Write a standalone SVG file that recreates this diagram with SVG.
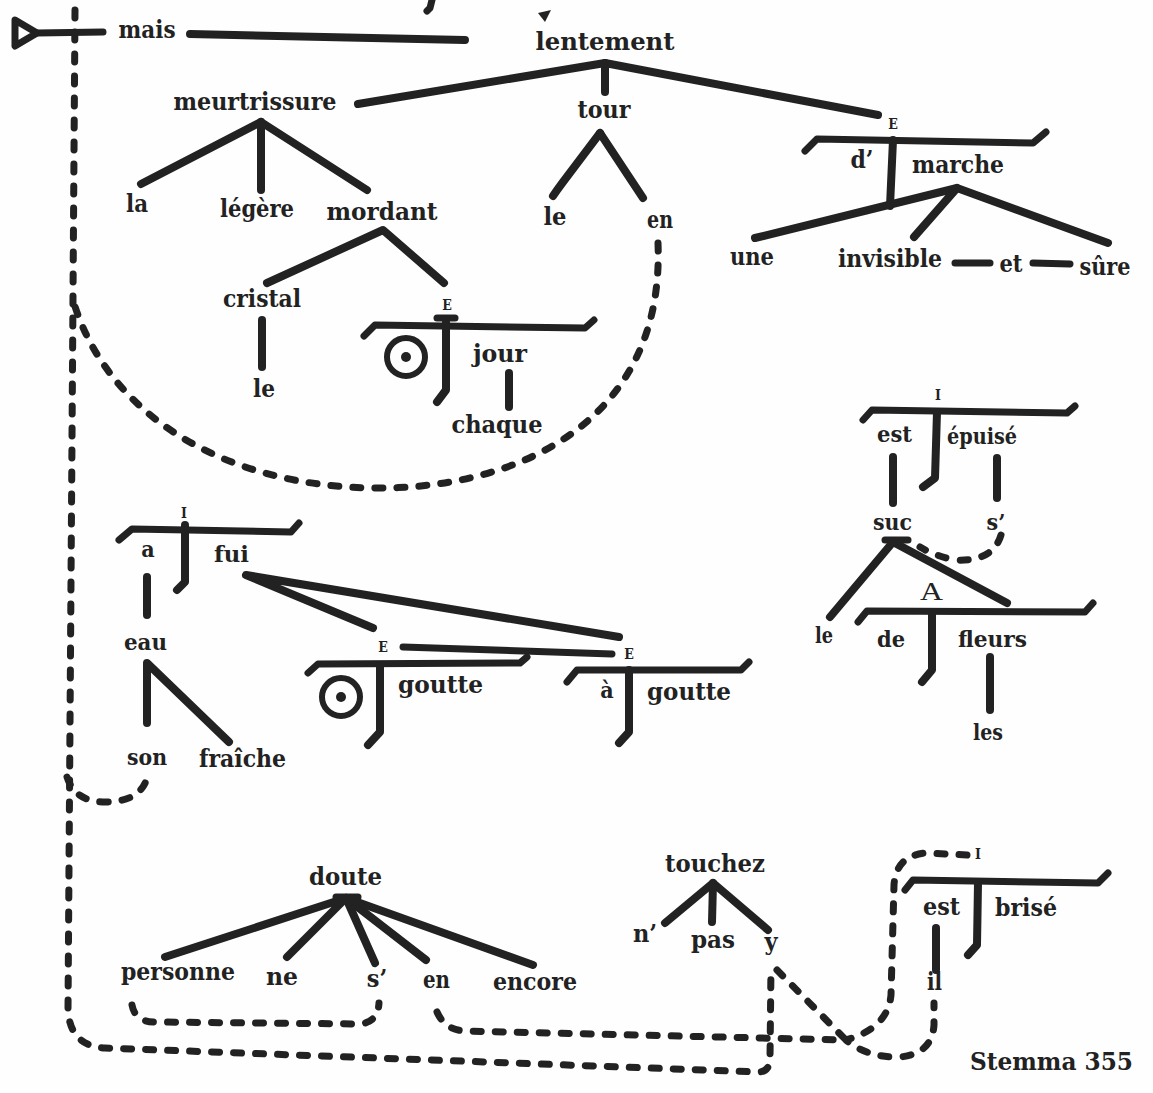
<svg xmlns="http://www.w3.org/2000/svg" width="1153" height="1093" viewBox="0 0 1153 1093">
<style>
.l{stroke:#222;stroke-width:8;fill:none;stroke-linecap:round;stroke-linejoin:round}
.t{stroke:#222;stroke-width:7;fill:none;stroke-linecap:round;stroke-linejoin:round}
.d{stroke:#222;stroke-width:7;fill:none;stroke-linecap:round;stroke-linejoin:round;stroke-dasharray:8 14}
.c{stroke:#222;stroke-width:6;fill:none}
.w{font-family:"DejaVu Serif Condensed","DejaVu Serif","Liberation Serif",serif;font-weight:bold;font-size:25px;fill:#222;text-anchor:middle}
.r{font-size:23px}
.s{font-size:14px}
.a{font-family:"Liberation Serif",serif;font-weight:normal;font-size:25px}
</style>
<rect width="1153" height="1093" fill="#fefefe"/>
<g id="marks">
<path class="t" d="M432,0 L430,8 L427,11" stroke-width="5"/>
<path d="M538,13 L551,10 L545,22 Z" fill="#222"/>
</g>
<g id="connectors">
<path class="l" d="M190,34 L465,40" stroke-width="9"/>
<path class="l" d="M358,104 L605,63 L878,115"/>
<path class="l" d="M605,63 L605,92"/>
<path class="l" d="M261,122 L141,184"/>
<path class="l" d="M261,122 L261,190"/>
<path class="l" d="M261,122 L367,190"/>
<path class="l" d="M600,133 L563,182 Q557,190 553,196"/>
<path class="l" d="M600,133 L643,198"/>
<path class="l" d="M755,238 L957,188 L1108,243"/>
<path class="l" d="M957,188 L914,237"/>
<path class="t" d="M955,263 L990,263"/>
<path class="t" d="M1033,263 L1070,264"/>
<path class="l" d="M267,283 L383,230 L444,283"/>
<path class="l" d="M262,320 L262,367"/>
<path class="l" d="M509,373 L509,407"/>
<path class="l" d="M147,577 L147,615"/>
<path class="l" d="M147,723 L147,663 L229,742"/>
<path class="l" d="M373,628 L246,575 L619,637"/>
<path class="t" d="M403,647 L612,654"/>
<path class="l" d="M893,457 L893,503"/>
<path class="l" d="M997,458 L997,498"/>
<path class="l" d="M830,617 L893,542 L1007,603"/>
<path class="t" d="M885,540 L908,540" stroke-width="4"/>
<path class="l" d="M990,657 L990,710"/>
<path class="l" d="M165,957 L346,898 L287,957"/>
<path class="l" d="M346,898 L375,963"/>
<path class="l" d="M346,898 L426,960"/>
<path class="l" d="M346,898 L533,965"/>
<path class="t" d="M336,897 L358,897" stroke-width="4"/>
<path class="l" d="M665,923 L713,883 L768,930"/>
<path class="l" d="M713,883 L712,922"/>
<path class="l" d="M936,928 L936,970"/>
<path class="d" d="M658,243 C665,420 520,488 379,488 C220,488 105,410 73,300"/>
<path class="d" d="M75,10 L68,1010 Q70,1046 105,1048 L758,1072 Q770,1072 770,1058 L771,966"/>
<path class="d" d="M67,777 Q75,802 105,802 Q140,802 147,778"/>
<path class="d" d="M132,1005 Q135,1022 155,1022 L360,1024 Q378,1022 379,1003"/>
<path class="d" d="M437,1012 Q445,1030 465,1031 L846,1040"/>
<path class="d" d="M777,970 L846,1040"/>
<path class="d" d="M1001,535 Q993,562 955,560 Q935,556 920,547"/>
<path class="d" d="M967,855 L925,853 Q896,856 894,885 L891,995 Q888,1028 846,1040 Q868,1058 900,1057 Q932,1054 934,1025 L934,1003"/>
</g>
<g id="n-mais">
<path class="t" d="M15,20 L37,33 L15,46 Z" stroke-width="6"/>
<path class="t" d="M37,33 L103,32"/>
<text class="w" x="147" y="38" textLength="57" lengthAdjust="spacingAndGlyphs">mais</text>
</g>
<g id="n-lentement"><text class="w" x="605" y="50" textLength="139" lengthAdjust="spacingAndGlyphs">lentement</text></g>
<g id="n-meurtrissure"><text class="w" x="255" y="110" textLength="163" lengthAdjust="spacingAndGlyphs">meurtrissure</text></g>
<g id="n-tour"><text class="w" x="604" y="118" textLength="53" lengthAdjust="spacingAndGlyphs">tour</text></g>
<g id="n-la"><text class="w" x="137" y="212" textLength="22" lengthAdjust="spacingAndGlyphs">la</text></g>
<g id="n-legere"><text class="w" x="257" y="217" textLength="74" lengthAdjust="spacingAndGlyphs">légère</text></g>
<g id="n-mordant"><text class="w" x="382" y="220" textLength="111" lengthAdjust="spacingAndGlyphs">mordant</text></g>
<g id="n-le1"><text class="w" x="555" y="225" textLength="23" lengthAdjust="spacingAndGlyphs">le</text></g>
<g id="n-en1"><text class="w" x="660" y="228" textLength="26" lengthAdjust="spacingAndGlyphs">en</text></g>
<g id="n-marche">
<text class="w s" x="893" y="129">E</text>
<path class="t" d="M805,151 L817,139 L1033,143 L1046,132"/>
<path class="l" d="M893,140 L890,206"/>
<text class="w" x="862" y="168" textLength="23" lengthAdjust="spacingAndGlyphs">d’</text>
<text class="w" x="958" y="173" textLength="92" lengthAdjust="spacingAndGlyphs">marche</text>
</g>
<g id="n-une"><text class="w" x="752" y="265" textLength="44" lengthAdjust="spacingAndGlyphs">une</text></g>
<g id="n-invisible"><text class="w" x="890" y="267" textLength="104" lengthAdjust="spacingAndGlyphs">invisible</text></g>
<g id="n-et"><text class="w" x="1011" y="272" textLength="23" lengthAdjust="spacingAndGlyphs">et</text></g>
<g id="n-sure"><text class="w" x="1105" y="275" textLength="51" lengthAdjust="spacingAndGlyphs">sûre</text></g>
<g id="n-cristal"><text class="w" x="262" y="307" textLength="78" lengthAdjust="spacingAndGlyphs">cristal</text></g>
<g id="n-le2"><text class="w" x="264" y="397" textLength="22" lengthAdjust="spacingAndGlyphs">le</text></g>
<g id="n-jour">
<text class="w s" x="447" y="310">E</text>
<path class="t" d="M437,318 L455,318" stroke-width="2"/>
<path class="t" d="M364,336 L375,325 L585,328 L594,320"/>
<path class="l" d="M446,322 L446,390 L437,402"/>
<circle class="c" cx="406" cy="357" r="19"/>
<circle cx="406" cy="357" r="5" fill="#222"/>
<text class="w" x="500" y="362" textLength="54" lengthAdjust="spacingAndGlyphs">jour</text>
</g>
<g id="n-chaque"><text class="w" x="497" y="433" textLength="91" lengthAdjust="spacingAndGlyphs">chaque</text></g>
<g id="n-epuise">
<text class="w s" x="938" y="400">I</text>
<path class="t" d="M863,420 L872,410 L1067,413 L1075,406"/>
<path class="l" d="M937,412 L935,478 L923,487"/>
<text class="w r" x="894.5" y="442" textLength="35" lengthAdjust="spacingAndGlyphs">est</text>
<text class="w r" x="982" y="444" textLength="70" lengthAdjust="spacingAndGlyphs">épuisé</text>
</g>
<g id="n-suc"><text class="w r" x="892.5" y="530" textLength="39" lengthAdjust="spacingAndGlyphs">suc</text></g>
<g id="n-s1"><text class="w r" x="996" y="530">s’</text></g>
<g id="n-fleurs">
<text class="w a" x="931.5" y="600" textLength="23" lengthAdjust="spacingAndGlyphs">A</text>
<path class="t" d="M858,622 L867,611 L1085,612 L1093,603"/>
<path class="l" d="M932,613 L932,670 L922,682"/>
<text class="w r" x="891" y="647" textLength="28" lengthAdjust="spacingAndGlyphs">de</text>
<text class="w r" x="992.5" y="647" textLength="69" lengthAdjust="spacingAndGlyphs">fleurs</text>
</g>
<g id="n-le3"><text class="w r" x="824" y="643" textLength="18" lengthAdjust="spacingAndGlyphs">le</text></g>
<g id="n-les"><text class="w r" x="988" y="740" textLength="30" lengthAdjust="spacingAndGlyphs">les</text></g>
<g id="n-fui">
<text class="w s" x="184" y="518">I</text>
<path class="t" d="M119,540 L132,529 L291,532 L299,523"/>
<path class="l" d="M185,525 L185,582 L177,590"/>
<text class="w r" x="148" y="557">a</text>
<text class="w r" x="231.5" y="562" textLength="35" lengthAdjust="spacingAndGlyphs">fui</text>
</g>
<g id="n-eau"><text class="w r" x="145.5" y="650" textLength="43" lengthAdjust="spacingAndGlyphs">eau</text></g>
<g id="n-son"><text class="w r" x="147" y="765" textLength="40" lengthAdjust="spacingAndGlyphs">son</text></g>
<g id="n-fraiche"><text class="w" x="242.5" y="767" textLength="87" lengthAdjust="spacingAndGlyphs">fraîche</text></g>
<g id="n-goutte1">
<text class="w s" x="383" y="652">E</text>
<path class="t" d="M308,673 L318,664 L520,663 L527,657"/>
<path class="l" d="M380,665 L380,732 L368,745"/>
<circle class="c" cx="341" cy="697" r="19"/>
<circle cx="341" cy="697" r="5" fill="#222"/>
<text class="w" x="440.5" y="693" textLength="85" lengthAdjust="spacingAndGlyphs">goutte</text>
</g>
<g id="n-goutte2">
<text class="w s" x="629" y="659">E</text>
<path class="t" d="M567,682 L577,670 L741,670 L749,662"/>
<path class="l" d="M629,670 L629,732 L619,743"/>
<text class="w r" x="607" y="698">à</text>
<text class="w" x="689" y="700" textLength="84" lengthAdjust="spacingAndGlyphs">goutte</text>
</g>
<g id="n-doute"><text class="w" x="345.5" y="885" textLength="73" lengthAdjust="spacingAndGlyphs">doute</text></g>
<g id="n-personne"><text class="w" x="178" y="980" textLength="114" lengthAdjust="spacingAndGlyphs">personne</text></g>
<g id="n-ne"><text class="w" x="282" y="985" textLength="32" lengthAdjust="spacingAndGlyphs">ne</text></g>
<g id="n-s2"><text class="w" x="377" y="987">s’</text></g>
<g id="n-en2"><text class="w" x="436.5" y="988" textLength="27" lengthAdjust="spacingAndGlyphs">en</text></g>
<g id="n-encore"><text class="w" x="535" y="990" textLength="84" lengthAdjust="spacingAndGlyphs">encore</text></g>
<g id="n-touchez"><text class="w" x="715" y="872" textLength="100" lengthAdjust="spacingAndGlyphs">touchez</text></g>
<g id="n-n"><text class="w" x="645" y="942">n’</text></g>
<g id="n-pas"><text class="w" x="713" y="948" textLength="44" lengthAdjust="spacingAndGlyphs">pas</text></g>
<g id="n-y"><text class="w" x="771" y="950">y</text></g>
<g id="n-brise">
<text class="w s" x="978" y="859">I</text>
<path class="t" d="M905,890 L913,880 L1098,883 L1108,873"/>
<path class="l" d="M978,883 L977,945 L968,955"/>
<text class="w" x="941.5" y="915" textLength="37" lengthAdjust="spacingAndGlyphs">est</text>
<text class="w" x="1026" y="916" textLength="62" lengthAdjust="spacingAndGlyphs">brisé</text>
</g>
<g id="n-il"><text class="w" x="934.5" y="990" textLength="15" lengthAdjust="spacingAndGlyphs">il</text></g>
<g id="caption"><text class="w" x="1051.5" y="1070" textLength="163" lengthAdjust="spacingAndGlyphs">Stemma 355</text></g>
</svg>
